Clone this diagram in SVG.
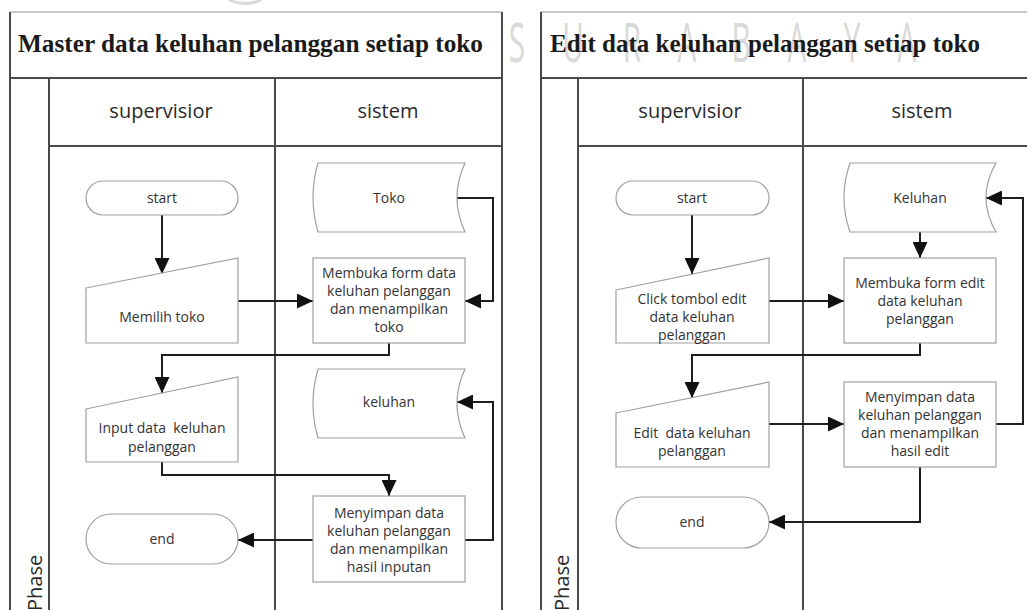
<svg xmlns="http://www.w3.org/2000/svg" width="1027" height="610" viewBox="0 0 1027 610">
  <defs>
    <style>
      .mark { font-family: "Open Sans", "Liberation Sans", sans-serif; font-weight: 400; font-size: 54px; fill: #d9d9d9; text-anchor: middle; }
      .frame { fill: none; stroke: #4a4a4a; stroke-width: 2; }
      .frame-top { fill: none; stroke: #c8c8c8; stroke-width: 2; }
      .title { font-family: "Liberation Serif", "Times New Roman", serif; font-weight: bold; font-size: 25px; fill: #1a1a1a; }
      .lane { font-family: "Open Sans", "Liberation Sans", sans-serif; font-size: 20px; fill: #2a2a2a; text-anchor: middle; }
      .phase { font-family: "Open Sans", "Liberation Sans", sans-serif; font-size: 20px; fill: #2a2a2a; }
      .shape { fill: #ffffff; stroke: #a0a0a0; stroke-width: 1.2; }
      .label { font-family: "Open Sans", "Liberation Sans", sans-serif; font-size: 14px; fill: #333333; text-anchor: middle; white-space: pre; }
      .flow { fill: none; stroke: #1e1e1e; stroke-width: 2; marker-end: url(#arrow); }
    </style>
    <marker id="arrow" markerUnits="userSpaceOnUse" markerWidth="16" markerHeight="15" refX="16" refY="7.5" orient="auto">
      <path d="M0,0 L16,7.5 L0,15 Z" fill="#111"/>
    </marker>
  </defs>

  <rect width="1027" height="610" fill="#ffffff"/>

  <!-- background lettering -->
  <g id="watermark">
    <path d="M229,0 Q245,7 261,0" fill="none" stroke="#d8d8d8" stroke-width="3"/>
    <text class="mark" transform="translate(517,62) scale(0.55,1)">S</text>
    <text class="mark" transform="translate(573,62) scale(0.55,1)">U</text>
    <text class="mark" transform="translate(632,62) scale(0.55,1)">R</text>
    <text class="mark" transform="translate(687,62) scale(0.55,1)">A</text>
    <text class="mark" transform="translate(741,62) scale(0.55,1)">B</text>
    <text class="mark" transform="translate(797,62) scale(0.55,1)">A</text>
    <text class="mark" transform="translate(852,62) scale(0.55,1)">Y</text>
    <text class="mark" transform="translate(907,62) scale(0.55,1)">A</text>
  </g>

  <!-- left pool: Master data -->
  <g id="pool-master">
    <line class="frame-top" x1="10" y1="12" x2="502" y2="12"/>
    <path class="frame" d="M10,12 V610 M502,12 V610 M10,78 H502 M49,146 H502 M49,78 V610 M275,78 V610"/>
    <text class="title" x="18" y="52" textLength="465" lengthAdjust="spacingAndGlyphs">Master data keluhan pelanggan setiap toko</text>
    <text class="lane" x="161" y="118">supervisior</text>
    <text class="lane" x="388" y="118">sistem</text>
    <text class="phase" transform="translate(42,611) rotate(-90)">Phase</text>
  </g>

  <!-- right pool: Edit data -->
  <g id="pool-edit">
    <line class="frame-top" x1="541" y1="12" x2="1027" y2="12"/>
    <path class="frame" d="M541,12 V610 M541,78 H1027 M578,146 H1027 M578,78 V610 M803,78 V610"/>
    <text class="title" x="550" y="52" textLength="430" lengthAdjust="spacingAndGlyphs">Edit data keluhan pelanggan setiap toko</text>
    <text class="lane" x="690" y="118">supervisior</text>
    <text class="lane" x="922" y="118">sistem</text>
    <text class="phase" transform="translate(569,611) rotate(-90)">Phase</text>
  </g>

  <!-- connectors -->
  <g id="connectors">
    <path class="flow" d="M162,215 V274"/>
    <path class="flow" d="M238,301 H313"/>
    <path class="flow" d="M457,198 H493 V301 H465"/>
    <path class="flow" d="M389,343 V355 H162 V393"/>
    <path class="flow" d="M162,462 V475 H389 V496"/>
    <path class="flow" d="M465,540 H493 V402 H457"/>
    <path class="flow" d="M313,540 H238"/>

    <path class="flow" d="M692,215 V274"/>
    <path class="flow" d="M769,301 H844"/>
    <path class="flow" d="M920,232 V258"/>
    <path class="flow" d="M920,343 V355 H692 V398"/>
    <path class="flow" d="M769,424 H844"/>
    <path class="flow" d="M996,424 H1023 V198 H986"/>
    <path class="flow" d="M920,467 V522 H769"/>
  </g>

  <!-- left pool nodes -->
  <g id="m-start">
    <rect class="shape" x="86" y="181" width="152" height="34" rx="17"/>
    <text class="label" x="162" y="203">start</text>
  </g>
  <g id="m-pilih-toko">
    <path class="shape" d="M86,288 L238,258 V343 H86 Z"/>
    <text class="label" x="162" y="322">Memilih toko</text>
  </g>
  <g id="m-db-toko">
    <path class="shape" d="M318,163 H465 Q449,197.5 465,232 H318 Q308,197.5 318,163 Z"/>
    <text class="label" x="389" y="203">Toko</text>
  </g>
  <g id="m-buka-form">
    <rect class="shape" x="313" y="258" width="152" height="85"/>
    <text class="label" x="389" y="278">Membuka form data</text>
    <text class="label" x="389" y="296">keluhan pelanggan</text>
    <text class="label" x="389" y="314">dan menampilkan</text>
    <text class="label" x="389" y="332">toko</text>
  </g>
  <g id="m-input">
    <path class="shape" d="M86,409 L238,377 V462 H86 Z"/>
    <text class="label" x="162" y="433">Input data  keluhan</text>
    <text class="label" x="162" y="452">pelanggan</text>
  </g>
  <g id="m-db-keluhan">
    <path class="shape" d="M318,369 H465 Q449,403.5 465,438 H318 Q308,403.5 318,369 Z"/>
    <text class="label" x="389" y="407">keluhan</text>
  </g>
  <g id="m-simpan">
    <rect class="shape" x="313" y="496" width="152" height="86"/>
    <text class="label" x="389" y="518">Menyimpan data</text>
    <text class="label" x="389" y="536">keluhan pelanggan</text>
    <text class="label" x="389" y="554">dan menampilkan</text>
    <text class="label" x="389" y="572">hasil inputan</text>
  </g>
  <g id="m-end">
    <rect class="shape" x="86" y="514" width="152" height="50" rx="25"/>
    <text class="label" x="162" y="544">end</text>
  </g>

  <!-- right pool nodes -->
  <g id="e-start">
    <rect class="shape" x="616" y="181" width="153" height="34" rx="17"/>
    <text class="label" x="692" y="203">start</text>
  </g>
  <g id="e-click-edit">
    <path class="shape" d="M616,290 L769,258 V343 H616 Z"/>
    <text class="label" x="692" y="304">Click tombol edit</text>
    <text class="label" x="692" y="322">data keluhan</text>
    <text class="label" x="692" y="340">pelanggan</text>
  </g>
  <g id="e-db-keluhan">
    <path class="shape" d="M850,163 H996 Q976,197.5 996,232 H850 Q838,197.5 850,163 Z"/>
    <text class="label" x="920" y="203">Keluhan</text>
  </g>
  <g id="e-buka-form">
    <rect class="shape" x="844" y="258" width="152" height="85"/>
    <text class="label" x="920" y="288">Membuka form edit</text>
    <text class="label" x="920" y="306">data keluhan</text>
    <text class="label" x="920" y="324">pelanggan</text>
  </g>
  <g id="e-edit">
    <path class="shape" d="M616,413 L769,382 V467 H616 Z"/>
    <text class="label" x="692" y="438">Edit  data keluhan</text>
    <text class="label" x="692" y="456">pelanggan</text>
  </g>
  <g id="e-simpan">
    <rect class="shape" x="844" y="382" width="152" height="85"/>
    <text class="label" x="920" y="402">Menyimpan data</text>
    <text class="label" x="920" y="420">keluhan pelanggan</text>
    <text class="label" x="920" y="438">dan menampilkan</text>
    <text class="label" x="920" y="456">hasil edit</text>
  </g>
  <g id="e-end">
    <rect class="shape" x="616" y="497" width="153" height="51" rx="25.5"/>
    <text class="label" x="692" y="527">end</text>
  </g>
</svg>
